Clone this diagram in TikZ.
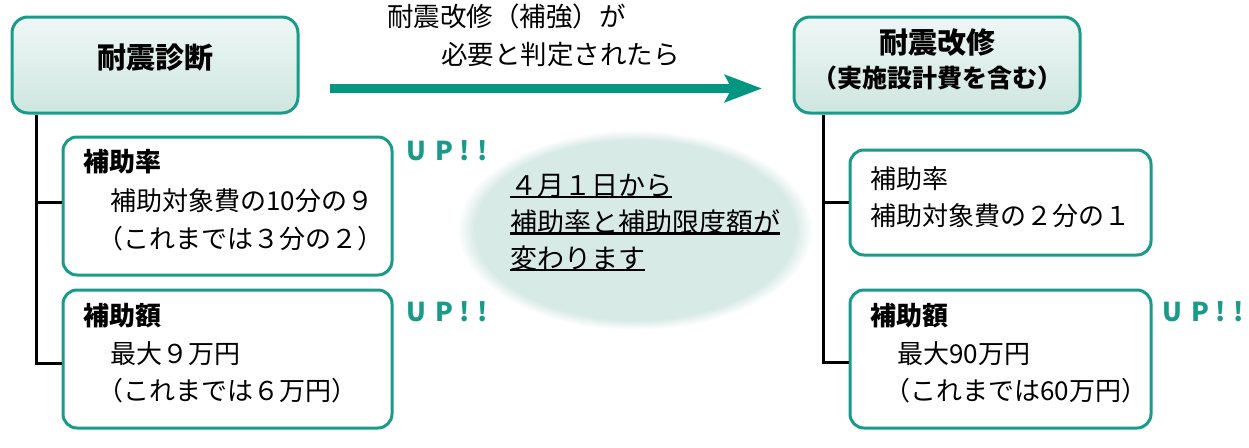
\documentclass[tikz,border=0pt]{standalone}
\usepackage{fontspec}
\setmainfont{Noto Sans CJK JP}
\usetikzlibrary{arrows.meta}
\definecolor{teal1}{RGB}{26,154,136}
\definecolor{arrowc}{RGB}{0,150,130}
\definecolor{ttop}{RGB}{239,247,245}
\definecolor{tbot}{RGB}{206,230,223}
\definecolor{ellc}{RGB}{216,234,230}
\pgfdeclareradialshading{ellfade}{\pgfpoint{0bp}{0bp}}{color(0bp)=(ellc); color(22.5bp)=(ellc); color(25bp)=(white); color(50bp)=(white)}
\begin{document}
\begin{tikzpicture}[x=1pt,y=-1pt,
  tbox/.style={draw=teal1, line width=3pt, rounded corners=16pt, top color=ttop, bottom color=tbot, minimum width=286pt, minimum height=96pt, inner sep=0pt},
  sbox/.style={draw=teal1, line width=3pt, rounded corners=14pt, fill=white, inner sep=0pt},
  txt/.style={inner sep=0pt, text height=0.88em, text depth=0.12em, anchor=west, font=\fontsize{26}{30}\selectfont},
  btxt/.style={txt, font=\fontsize{26}{30}\selectfont\bfseries},
  ttl/.style={inner sep=0pt, text height=0.88em, text depth=0.12em, font=\fontsize{29}{32}\selectfont\bfseries},
  etxt/.style={txt, font=\fontsize{27}{30}\selectfont},
  uline/.style={line width=2.5pt, black},
  conn/.style={black, line width=3pt},
  uptxt/.style={inner sep=0pt, text height=0.88em, text depth=0.12em, anchor=west, text=teal1, font=\fontsize{26}{30}\selectfont\bfseries},
  arr/.style={arrowc, line width=9pt, -{Stealth[length=37pt, width=27pt, inset=7pt]}}
]
\useasboundingbox (0,0) rectangle (1249,447);

% ellipse
\shade[shading=ellfade] (635,230) ellipse [x radius=178, y radius=100];

% title boxes
\node[tbox] (lt) at (155,65) {};
\node[ttl] (ltA) at (155,65) {耐震診断};
\node[tbox] (rt) at (937,65) {};
\node[ttl] (rtA) at (937,50) {耐震改修};
\node[ttl, font=\fontsize{25}{30}\selectfont\bfseries] (rtB) at (937,84) {（実施設計費を含む）};

% sub boxes
\node[sbox, minimum width=329pt, minimum height=138pt] (b1) at (227.5,206) {};
\node[sbox, minimum width=329pt, minimum height=138pt] (b2) at (227.5,359) {};
\node[sbox, minimum width=301pt, minimum height=105pt] (b3) at (1000.5,202.5) {};
\node[sbox, minimum width=301pt, minimum height=138pt] (b4) at (1000.5,359) {};

% connectors
\draw[conn] ([xshift=26pt]lt.south west) |- ([yshift=4pt]b1.west);
\draw[conn] ([xshift=26pt]lt.south west) |- ([yshift=-4pt]b2.west);
\draw[conn] ([xshift=31pt]rt.south west) |- (b3.west);
\draw[conn] ([xshift=31pt]rt.south west) |- ([yshift=-3pt]b4.west);

% box texts left
\node[btxt] (t1a) at (83,168) {補助率};
\node[txt] (t1b) at (110,207) {補助対象費の10分の９};
\node[txt] (t1c) at (97,245) {（これまでは３分の２）};
\node[btxt] (t2a) at (83,322) {補助額};
\node[txt] (t2b) at (110,360) {最大９万円};
\node[txt] (t2c) at (97,397) {（これまでは６万円）};

% box texts right
\node[txt] (t3a) at (870,185) {補助率};
\node[txt] (t3b) at (870,222) {補助対象費の２分の１};
\node[btxt] (t4a) at (870,322) {補助額};
\node[txt] (t4b) at (897,360) {最大90万円};
\node[txt] (t4c) at (884,397) {（これまでは60万円）};

% UP!!
\node[uptxt] (up1) at (406,157) {U\kern9pt P\kern7pt !\kern7pt !};
\node[uptxt] (up2) at (406,318) {U\kern9pt P\kern7pt !\kern7pt !};
\node[uptxt] (up3) at (1162,318) {U\kern9pt P\kern7pt !\kern7pt !};

% arrow
\coordinate (as) at (330,88.5);
\coordinate (ae) at (762,88.5);
\draw[arr] (as) -- (ae);
\node[txt, font=\fontsize{26.5}{30}\selectfont] (l1) at (387,23) {耐震改修（補強）が};
\node[txt, font=\fontsize{26.5}{30}\selectfont] (l2) at (441,61) {必要と判定されたら};

% ellipse text
\node[etxt] (e1) at (510,192) {４月１日から};
\node[etxt] (e2) at (510,228.5) {補助率と補助限度額が};
\node[etxt] (e3) at (510,265) {変わります};
\draw[uline] (e1.south west) -- (e1.south east);
\draw[uline] (e2.south west) -- (e2.south east);
\draw[uline] (e3.south west) -- (e3.south east);
\end{tikzpicture}
\end{document}
